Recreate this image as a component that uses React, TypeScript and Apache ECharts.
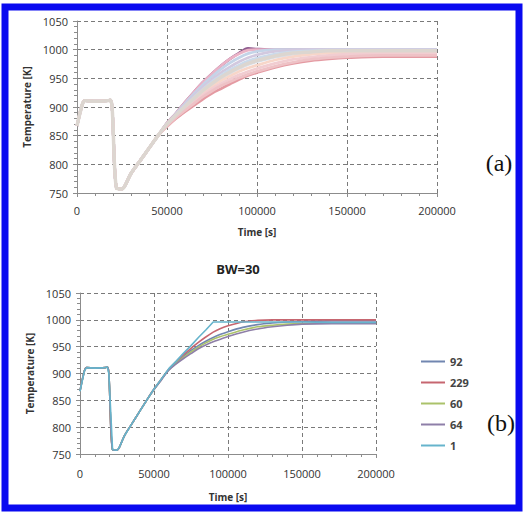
import React, { useEffect, useRef } from "react";
import * as echarts from "echarts";

const X_MIN = 0;
const X_MAX = 200000;
const X_STEP = 50000;
const Y_MIN = 750;
const Y_MAX = 1050;
const Y_STEP = 50;

// shared start of every run: time [s] and temperature [K]
const startTimes = [0, 3000, 4500, 10000, 17000, 18500, 19500, 22000, 25000, 26500, 30000, 35000, 40000, 45000];
const startTemps = [867, 905, 911, 910, 911, 912, 900, 758, 757, 762, 784, 806, 828, 850];

// times of the diverging part
const tailTimes = [50000, 55000, 60000, 65000, 70000, 75000, 80000, 85000, 90000, 95000, 100000, 110000, 120000, 130000, 140000, 150000, 170000, 200000];

// (a) many runs
const runA1 = [872, 889, 908, 926, 943, 958, 972, 984, 994, 1002, 1001, 1000, 1000, 1000, 1000, 1000, 1000, 1000];
const runA2 = [872, 889, 908, 926, 943, 958, 972, 984, 993, 999, 1000, 1000, 1000, 1000, 1000, 1000, 1000, 1000];
const runA3 = [871, 888, 906, 923, 939, 953, 966, 977, 986, 993, 997, 1000, 1000, 1000, 1000, 1000, 1000, 1000];
const runA4 = [870, 887, 904, 920, 935, 948, 960, 970, 979, 986, 991, 997, 999, 1000, 1000, 1000, 1000, 1000];
const runA5 = [870, 886, 902, 917, 931, 944, 955, 965, 973, 980, 985, 992, 996, 998, 999, 999, 999, 999];
const runA6 = [869, 885, 900, 914, 928, 940, 950, 959, 967, 974, 979, 987, 992, 995, 997, 998, 998, 998];
const runA7 = [869, 884, 898, 912, 925, 936, 946, 954, 962, 968, 973, 982, 988, 992, 994, 995, 996, 996];
const runA8 = [868, 883, 896, 909, 921, 932, 941, 949, 956, 962, 967, 976, 983, 987, 990, 992, 993, 993];
const runA9 = [867, 882, 894, 906, 918, 928, 937, 944, 951, 957, 962, 971, 978, 983, 986, 988, 990, 990];
const runA10 = [866, 880, 892, 903, 914, 924, 932, 940, 948, 955, 960, 969, 976, 981, 984, 986, 988, 988];
const runA11 = [870, 886, 901, 915, 929, 941, 952, 961, 969, 976, 981, 989, 994, 996, 998, 998, 998, 998];
const runsA = [runA1, runA10, runA2, runA3, runA4, runA5, runA6, runA7, runA8, runA9, runA11];
const colorsA = ["#8e5b8e", "#e49aa2", "#ebb3c6", "#c4d4e8", "#d2c9df", "#cbdaeb", "#d9e1ec", "#f7d6c9", "#f1cdd1", "#eec2c6", "#dcd6d0"];

// (b) BW=30
const namesB = ["92", "229", "60", "64", "1"];
const runB92 = [871, 889, 907, 920, 932, 943, 952, 960, 967, 973, 978, 986, 991, 994, 996, 997, 998, 998];
const runB229 = [871, 890, 908, 922, 935, 947, 958, 968, 977, 984, 989, 996, 999, 1000, 1000, 1000, 1000, 1000];
const runB60 = [870, 889, 907, 919, 930, 940, 949, 957, 964, 969, 973, 981, 987, 990, 992, 993, 994, 994];
const runB64 = [870, 888, 906, 918, 928, 937, 946, 953, 959, 964, 969, 977, 983, 987, 990, 992, 993, 993];
const runB1 = [871, 890, 909, 923, 938, 952, 967, 981, 996, 996, 996, 996, 996, 996, 996, 996, 995, 995];
const runsB = [runB92, runB229, runB60, runB64, runB1];
const colorsB = ["#7186b0", "#c66670", "#abc26a", "#8e7fa8", "#66b4cc"];
const smoothB = [0.3, 0.3, 0.3, 0.3, 0];

const FONT = "'Open Sans', 'Noto Sans', sans-serif";

function buildPoints(tail: number[]) {
  const pts: number[][] = [];
  startTimes.forEach((t, i) => pts.push([t, startTemps[i]]));
  tailTimes.forEach((t, i) => pts.push([t, tail[i]]));
  return pts;
}

const plain = (v: number) => String(v);

function xAxis(gridIndex: number, nameGap: number, margin: number) {
  return {
    type: "value",
    gridIndex,
    min: X_MIN,
    max: X_MAX,
    interval: X_STEP,
    name: "Time [s]",
    nameLocation: "middle",
    nameGap,
    nameTextStyle: { fontFamily: FONT, fontSize: 10, fontWeight: "bold", color: "#333" },
    axisLine: { show: true, lineStyle: { color: "#8c8c8c", width: 1 } },
    axisTick: { show: true, length: 4, lineStyle: { color: "#8c8c8c" } },
    minorTick: { show: true, splitNumber: 5, length: 3, lineStyle: { color: "#8c8c8c" } },
    axisLabel: { margin, fontFamily: FONT, fontSize: 11, color: "#333", formatter: plain },
    splitLine: { show: true, lineStyle: { color: "#7a7a7a", type: [4, 3], width: 1 } },
  };
}

function yAxis(gridIndex: number, nameGap: number) {
  return {
    type: "value",
    gridIndex,
    min: Y_MIN,
    max: Y_MAX,
    interval: Y_STEP,
    name: "Temperature [K]",
    nameLocation: "middle",
    nameGap,
    nameTextStyle: { fontFamily: FONT, fontSize: 10, fontWeight: "bold", color: "#333" },
    axisLine: { show: true, lineStyle: { color: "#8c8c8c", width: 1 } },
    axisTick: { show: true, length: 4, lineStyle: { color: "#8c8c8c" } },
    minorTick: { show: true, splitNumber: 5, length: 3, lineStyle: { color: "#8c8c8c" } },
    axisLabel: { margin: 9, fontFamily: FONT, fontSize: 11, color: "#333", formatter: plain },
    splitLine: { show: true, lineStyle: { color: "#7a7a7a", type: [4, 3], width: 1 } },
  };
}

export default function App() {
  const ref = useRef<HTMLDivElement>(null);

  useEffect(() => {
    if (!ref.current) return;
    const chart = echarts.init(ref.current, null, { renderer: "svg" });

    const seriesA = runsA.map((run, i) => ({
      type: "line",
      name: "a" + i,
      xAxisIndex: 0,
      yAxisIndex: 0,
      data: buildPoints(run),
      showSymbol: false,
      smooth: 0.3,
      lineStyle: { color: colorsA[i], width: i === runsA.length - 1 ? 3.5 : 2.8 },
      itemStyle: { color: colorsA[i] },
      silent: true,
    }));

    const seriesB = runsB.map((run, i) => ({
      type: "line",
      name: namesB[i],
      xAxisIndex: 1,
      yAxisIndex: 1,
      data: buildPoints(run),
      showSymbol: false,
      smooth: smoothB[i],
      lineStyle: { color: colorsB[i], width: 1.6 },
      itemStyle: { color: colorsB[i] },
      silent: true,
    }));

    chart.setOption({
      animation: false,
      backgroundColor: "#ffffff",
      grid: [
        { left: 77, top: 21, width: 360, height: 172 },
        { left: 80, top: 293, width: 296, height: 161 },
      ],
      xAxis: [xAxis(0, 34, 12), xAxis(1, 38, 14)],
      yAxis: [yAxis(0, 42), yAxis(1, 43)],
      legend: {
        data: namesB,
        orient: "vertical",
        left: 416,
        top: 351,
        icon: "rect",
        itemWidth: 24,
        itemHeight: 2,
        itemGap: 10,
        textStyle: { fontFamily: FONT, fontSize: 11, fontWeight: "bold", color: "#444" },
      },
      graphic: [
        {
          type: "rect",
          shape: { x: 5, y: 7, width: 514, height: 501 },
          style: { fill: "none", stroke: "#0a0af0", lineWidth: 7 },
          silent: true,
        },
        {
          type: "text",
          x: 238,
          y: 269,
          style: { text: "BW=30", fontFamily: FONT, fontSize: 13, fontWeight: "bold", fill: "#222", textAlign: "center", textVerticalAlign: "middle" },
        },
        {
          type: "text",
          x: 499,
          y: 163,
          style: { text: "(a)", fontFamily: "'Liberation Serif', 'DejaVu Serif', serif", fontSize: 24, fill: "#111", textAlign: "center", textVerticalAlign: "middle" },
        },
        {
          type: "text",
          x: 501,
          y: 423,
          style: { text: "(b)", fontFamily: "'Liberation Serif', 'DejaVu Serif', serif", fontSize: 24, fill: "#111", textAlign: "center", textVerticalAlign: "middle" },
        },
      ],
      series: [...seriesA, ...seriesB],
    });

    return () => chart.dispose();
  }, []);

  return (
    <div
      ref={ref}
      style={{ position: "fixed", left: 0, top: 0, width: 524, height: 512, background: "#fff" }}
    />
  );
}
